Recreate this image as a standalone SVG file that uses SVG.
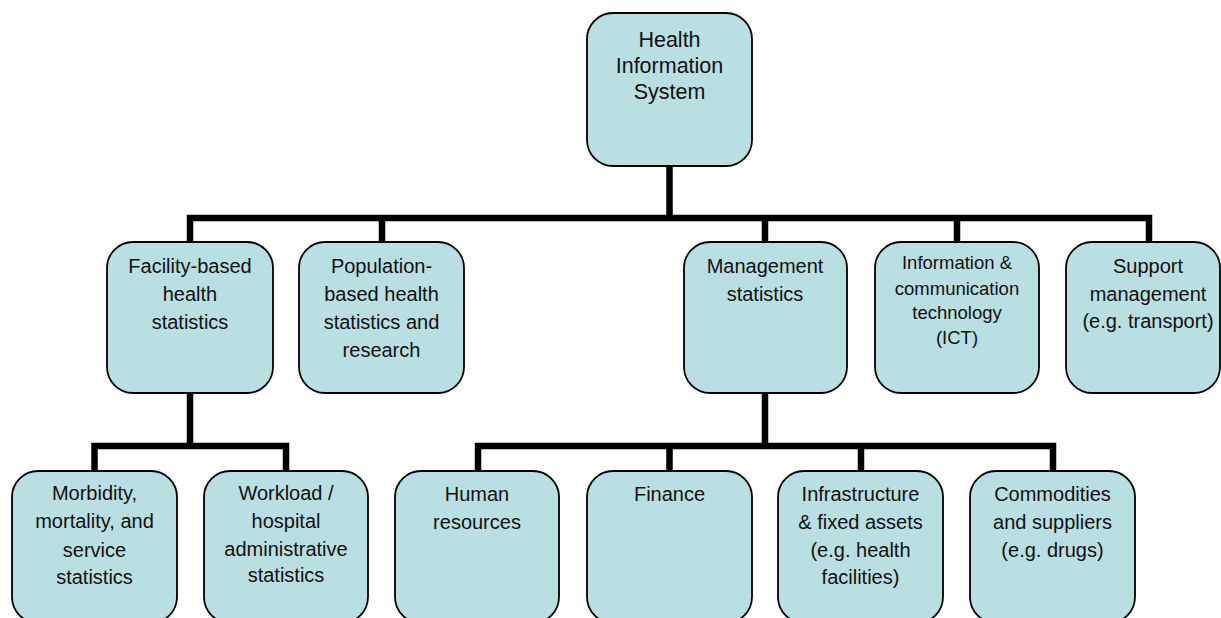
<svg xmlns="http://www.w3.org/2000/svg" width="1221" height="618" viewBox="0 0 1221 618">
<style>
.box{fill:#BADFE2;stroke:#000;stroke-width:1.8}
.t{font-family:"Liberation Sans",Arial,sans-serif;font-size:20px;fill:#111;text-anchor:middle}
.top{font-size:21.5px}
.sm{font-size:18.5px}
.c{fill:none;stroke:#000;stroke-width:6.5;stroke-linejoin:miter;stroke-linecap:butt}
</style>
<rect width="1221" height="618" fill="#fff"/>
<g id="connectors">
<path class="c" d="M669.5 166 V218"/>
<path class="c" d="M190 242 V218 H1149 V242"/>
<path class="c" d="M382 218 V242"/>
<path class="c" d="M765 218 V242"/>
<path class="c" d="M957 218 V242"/>
<path class="c" d="M190 393 V446"/>
<path class="c" d="M94.5 471 V446 H286 V471"/>
<path class="c" d="M765 393 V446"/>
<path class="c" d="M478 471 V446 H1053 V471"/>
<path class="c" d="M669.5 446 V471"/>
<path class="c" d="M861 446 V471"/>
</g>
<g id="his">
<rect class="box" x="587" y="13" width="165" height="153" rx="26"/>
<text class="t top" x="669.5" y="47">Health</text>
<text class="t top" x="669.5" y="73">Information</text>
<text class="t top" x="669.5" y="99">System</text>
</g>
<g id="facility">
<rect class="box" x="107" y="242" width="166" height="151" rx="26"/>
<text class="t" x="190" y="273">Facility-based</text>
<text class="t" x="190" y="301">health</text>
<text class="t" x="190" y="329">statistics</text>
</g>
<g id="population">
<rect class="box" x="299" y="242" width="165" height="151" rx="26"/>
<text class="t" x="381.5" y="273">Population-</text>
<text class="t" x="381.5" y="301">based health</text>
<text class="t" x="381.5" y="329">statistics and</text>
<text class="t" x="381.5" y="357">research</text>
</g>
<g id="management">
<rect class="box" x="684" y="242" width="163" height="151" rx="26"/>
<text class="t" x="765" y="272.5">Management</text>
<text class="t" x="765" y="300.5">statistics</text>
</g>
<g id="ict">
<rect class="box" x="875" y="242" width="164" height="151" rx="26"/>
<text class="t sm" x="957" y="269">Information &amp;</text>
<text class="t sm" x="957" y="294.5">communication</text>
<text class="t sm" x="957" y="319">technology</text>
<text class="t sm" x="957" y="344">(ICT)</text>
</g>
<g id="support">
<rect class="box" x="1066" y="242" width="154" height="151" rx="26"/>
<text class="t" x="1148" y="272.5">Support</text>
<text class="t" x="1148" y="300.5">management</text>
<text class="t" x="1148" y="328">(e.g. transport)</text>
</g>
<g id="morbidity">
<rect class="box" x="12" y="471" width="165" height="152" rx="26"/>
<text class="t" x="94.5" y="500">Morbidity,</text>
<text class="t" x="94.5" y="528">mortality, and</text>
<text class="t" x="94.5" y="556.5">service</text>
<text class="t" x="94.5" y="584">statistics</text>
</g>
<g id="workload">
<rect class="box" x="204" y="471" width="164" height="152" rx="26"/>
<text class="t" x="286" y="500">Workload /</text>
<text class="t" x="286" y="528">hospital</text>
<text class="t" x="286" y="555.5">administrative</text>
<text class="t" x="286" y="582">statistics</text>
</g>
<g id="human">
<rect class="box" x="395" y="471" width="164" height="152" rx="26"/>
<text class="t" x="477" y="501">Human</text>
<text class="t" x="477" y="528.5">resources</text>
</g>
<g id="finance">
<rect class="box" x="587" y="471" width="165" height="152" rx="26"/>
<text class="t" x="669.5" y="501">Finance</text>
</g>
<g id="infrastructure">
<rect class="box" x="778" y="471" width="165" height="152" rx="26"/>
<text class="t" x="860.5" y="501">Infrastructure</text>
<text class="t" x="860.5" y="529">&amp; fixed assets</text>
<text class="t" x="860.5" y="556.5">(e.g. health</text>
<text class="t" x="860.5" y="584">facilities)</text>
</g>
<g id="commodities">
<rect class="box" x="970" y="471" width="165" height="152" rx="26"/>
<text class="t" x="1052.5" y="501">Commodities</text>
<text class="t" x="1052.5" y="529">and suppliers</text>
<text class="t" x="1052.5" y="556.5">(e.g. drugs)</text>
</g>
</svg>
